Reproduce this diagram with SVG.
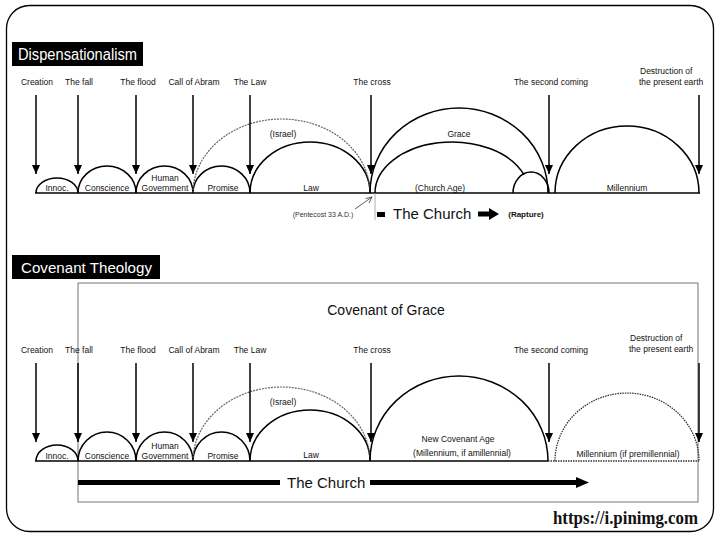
<svg xmlns="http://www.w3.org/2000/svg" width="720" height="540" viewBox="0 0 720 540">
<defs>
<style>
.lbl{font-family:"Liberation Sans",Arial,sans-serif;font-size:8.5px;fill:#111;text-anchor:middle}
.sm{font-family:"Liberation Sans",Arial,sans-serif;font-size:7px;fill:#333;text-anchor:middle}
.big{font-family:"Liberation Sans",Arial,sans-serif;font-size:15px;fill:#111}
.ttl{font-family:"Liberation Sans",Arial,sans-serif;font-size:16px;fill:#fff}
.arc{fill:none;stroke:#000;stroke-width:1.5}
.isr{fill:none;stroke:#666;stroke-width:1.2;stroke-dasharray:2 1}
.dot{fill:none;stroke:#333;stroke-width:1.3;stroke-dasharray:1.5 1}
.arr{stroke:#000;stroke-width:1.5;fill:none;marker-end:url(#ah)}
.base{stroke:#000;stroke-width:1.5;fill:none}
</style>
<marker id="ah" viewBox="0 0 9 8" markerWidth="9" markerHeight="8" refX="9" refY="4" orient="auto" markerUnits="userSpaceOnUse">
<path d="M0,0 L9,4 L0,8 z" fill="#000"/>
</marker>
</defs>
<rect width="720" height="540" fill="#fff"/>
<rect x="6.5" y="5.5" width="707" height="526" rx="23" fill="none" stroke="#000" stroke-width="1.3"/>

<!-- ===== Dispensationalism ===== -->
<g id="title-disp">
<rect x="12" y="42" width="131" height="24" fill="#000"/>
<text class="ttl" x="18" y="60" textLength="119" lengthAdjust="spacingAndGlyphs">Dispensationalism</text>
</g>

<g id="events-top">
<text class="lbl" x="37" y="85">Creation</text>
<text class="lbl" x="79" y="85">The fall</text>
<text class="lbl" x="138" y="85">The flood</text>
<text class="lbl" x="194" y="85">Call of Abram</text>
<text class="lbl" x="250" y="85">The Law</text>
<text class="lbl" x="372" y="85">The cross</text>
<text class="lbl" x="551" y="85">The second coming</text>
<text class="lbl" x="640" y="74" style="text-anchor:start">Destruction of</text>
<text class="lbl" x="639" y="85" style="text-anchor:start">the present earth</text>
</g>

<g id="eras-top">
<g id="t-innoc"><path class="arc" d="M36,193 A21,15 0 0 1 78,193"/><text class="lbl" x="57" y="191">Innoc.</text></g>
<g id="t-conscience"><path class="arc" d="M78,193 A29,27 0 0 1 136,193"/><text class="lbl" x="107" y="191">Conscience</text></g>
<g id="t-human"><path class="arc" d="M136,193 A28.5,27 0 0 1 193,193"/><text class="lbl" x="165" y="181">Human</text><text class="lbl" x="165" y="191">Government</text></g>
<g id="t-promise"><path class="arc" d="M193,193 A28.5,27 0 0 1 250,193"/><text class="lbl" x="223" y="191">Promise</text></g>
<g id="t-law"><path class="arc" d="M250,193 A60,51 0 0 1 370,193"/><text class="lbl" x="311" y="191">Law</text></g>
<g id="t-israel"><path class="isr" d="M193,193 A88.5,74 0 0 1 370,193"/><text class="lbl" x="283" y="137">(Israel)</text></g>
<g id="t-grace"><path class="arc" d="M370,193 A89,85 0 0 1 548,193"/><text class="lbl" x="459" y="137">Grace</text></g>
<g id="t-churchage"><path class="arc" d="M375,193 A77,51 0 0 1 524,174.9"/><text class="lbl" x="440" y="191">(Church Age)</text></g>
<g id="t-rapture-arc"><path class="arc" d="M513,193 A18,21 0 0 1 549,193"/></g>
<g id="t-millennium"><path class="arc" d="M555,193 A72,67 0 0 1 699,193"/><text class="lbl" x="627" y="191">Millennium</text></g>
</g>

<g id="connectors-top">
<line class="base" x1="35" y1="193" x2="700" y2="193"/>
<line class="arr" x1="36" y1="95" x2="36" y2="174"/>
<line class="arr" x1="78" y1="95" x2="78" y2="174"/>
<line class="arr" x1="136" y1="95" x2="136" y2="174"/>
<line class="arr" x1="193" y1="95" x2="193" y2="174"/>
<line class="arr" x1="250" y1="95" x2="250" y2="174"/>
<line class="arr" x1="371" y1="95" x2="371" y2="174"/>
<line class="arr" x1="549" y1="95" x2="549" y2="174"/>
<line class="arr" x1="699" y1="95" x2="699" y2="174"/>
<line x1="375" y1="193" x2="375" y2="220" stroke="#999" stroke-width="0.8"/>
<line x1="355" y1="209" x2="372" y2="197" stroke="#333" stroke-width="0.8"/>
<polyline points="365.5,198.5 372,197 369,203" fill="none" stroke="#333" stroke-width="0.8"/>
</g>

<g id="church-top">
<text class="sm" x="323" y="217">(Pentecost 33 A.D.)</text>
<rect x="377" y="212" width="8" height="5" fill="#000"/>
<text class="big" x="393" y="219">The Church</text>
<polygon points="478,211.5 489,211.5 489,208 499,214 489,220 489,216.5 478,216.5" fill="#000"/>
<text class="lbl" x="526" y="217" style="font-weight:bold;font-size:8px">(Rapture)</text>
</g>

<!-- ===== Covenant Theology ===== -->
<g id="title-cov">
<rect x="12" y="255" width="148" height="24" fill="#000"/>
<text class="ttl" x="21" y="273" style="font-size:15px" textLength="131" lengthAdjust="spacingAndGlyphs">Covenant Theology</text>
</g>

<g id="covenant-of-grace">
<rect x="78" y="283" width="620" height="219" fill="none" stroke="#777" stroke-width="1"/>
<text class="big" x="386" y="315" style="font-size:14px;text-anchor:middle">Covenant of Grace</text>
</g>

<g id="events-bottom">
<text class="lbl" x="37" y="353">Creation</text>
<text class="lbl" x="79" y="353">The fall</text>
<text class="lbl" x="138" y="353">The flood</text>
<text class="lbl" x="194" y="353">Call of Abram</text>
<text class="lbl" x="250" y="353">The Law</text>
<text class="lbl" x="372" y="353">The cross</text>
<text class="lbl" x="551" y="353">The second coming</text>
<text class="lbl" x="630" y="341" style="text-anchor:start">Destruction of</text>
<text class="lbl" x="629" y="352" style="text-anchor:start">the present earth</text>
</g>

<g id="eras-bottom">
<g id="b-innoc"><path class="arc" d="M36,461 A21,16 0 0 1 78,461"/><text class="lbl" x="57" y="459">Innoc.</text></g>
<g id="b-conscience"><path class="arc" d="M78,461 A29,29 0 0 1 136,461"/><text class="lbl" x="107" y="459">Conscience</text></g>
<g id="b-human"><path class="arc" d="M136,461 A28.5,29 0 0 1 193,461"/><text class="lbl" x="165" y="449">Human</text><text class="lbl" x="165" y="459">Government</text></g>
<g id="b-promise"><path class="arc" d="M193,461 A28.5,29 0 0 1 250,461"/><text class="lbl" x="223" y="459">Promise</text></g>
<g id="b-law"><path class="arc" d="M250,461 A60,51 0 0 1 370,461"/><text class="lbl" x="311" y="458">Law</text></g>
<g id="b-israel"><path class="isr" d="M193,461 A88.5,74 0 0 1 370,461"/><text class="lbl" x="283" y="405">(Israel)</text></g>
<g id="b-newcov"><path class="arc" d="M370,461 A89,85 0 0 1 548,461"/><text class="lbl" x="458" y="442">New Covenant Age</text><text class="lbl" x="462" y="456">(Millennium, if amillennial)</text></g>
<g id="b-millennium"><path class="dot" d="M555,461 A72,68 0 0 1 699,461"/><text class="lbl" x="628" y="457">Millennium (if premillennial)</text></g>
</g>

<g id="connectors-bottom">
<line class="base" x1="35" y1="461" x2="548" y2="461"/>
<line class="dot" x1="548" y1="461" x2="699" y2="461"/>
<line class="arr" x1="36" y1="363" x2="36" y2="442"/>
<line class="arr" x1="78" y1="363" x2="78" y2="442"/>
<line class="arr" x1="136" y1="363" x2="136" y2="442"/>
<line class="arr" x1="193" y1="363" x2="193" y2="442"/>
<line class="arr" x1="250" y1="363" x2="250" y2="442"/>
<line class="arr" x1="371" y1="363" x2="371" y2="442"/>
<line class="arr" x1="549" y1="363" x2="549" y2="442"/>
<line class="arr" x1="699" y1="363" x2="699" y2="442"/>
</g>

<g id="church-bottom">
<rect x="78" y="480" width="202" height="5" fill="#000"/>
<text class="big" x="287" y="488">The Church</text>
<rect x="370" y="480" width="207" height="5" fill="#000"/>
<polygon points="576,477 589,482.5 576,488" fill="#000"/>
</g>

<text x="553" y="524" style="font-family:'Liberation Serif','Times New Roman',serif;font-size:18px;font-weight:bold;fill:#111" textLength="145" lengthAdjust="spacingAndGlyphs">https://i.pinimg.com</text>
</svg>
